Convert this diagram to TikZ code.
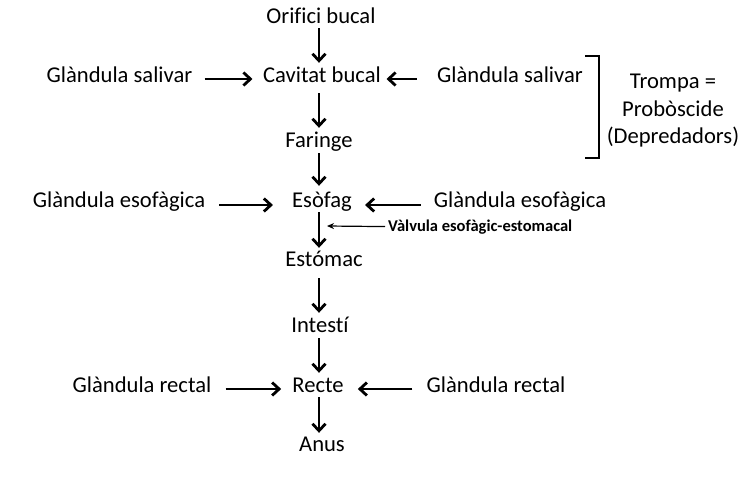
\documentclass[tikz,border=0pt]{standalone}
\usepackage{fontspec}
\setmainfont[Ligatures=NoCommon]{Carlito}
\usetikzlibrary{arrows.meta}
\begin{document}
\begin{tikzpicture}[x=1pt,y=-1pt,
  lbl/.style={font=\fontsize{22.6}{27}\selectfont, inner sep=0pt, text height=17pt, text depth=5pt},
  flow/.style={line width=2.8pt, -{Straight Barb[length=7pt,width=13pt]}},
  thinarrow/.style={line width=1.2pt, -{Stealth[length=7pt,width=6pt]}}]
\useasboundingbox (0,0) rectangle (753,498);
\coordinate (axis) at (319,0);
% central chain (centre = baseline - 6)
\node[lbl] (orif) at (321,17) {Orifici bucal};
\node[lbl] (cav)  at (322,76) {Cavitat bucal};
\node[lbl] (far)  at (319,141) {Faringe};
\node[lbl] (eso)  at (322,201) {Esòfag};
\node[lbl] (est)  at (324,260) {Estómac};
\node[lbl] (int)  at (320,326) {Intestí};
\node[lbl] (rec)  at (318,386) {Recte};
\node[lbl] (anus) at (322,445) {Anus};
% glands
\node[lbl] (gsl) at (119.5,76) {Glàndula salivar};
\node[lbl] (gsr) at (510,76) {Glàndula salivar};
\node[lbl] (gel) at (119,201) {Glàndula esofàgica};
\node[lbl] (ger) at (520,201) {Glàndula esofàgica};
\node[lbl] (grl) at (142,386) {Glàndula rectal};
\node[lbl] (grr) at (496,386) {Glàndula rectal};
% proboscis note
\node[font=\fontsize{22.6}{27.5}\selectfont, align=center, inner sep=0pt] (tromp) at (673,111) {Trompa =\\Probòscide\\(Depredadors)};
\draw[line width=2.2pt] (585,56) -- (599,56) -- (599,158) -- (585,158);
% valve label
\node[font=\fontsize{16.5}{20}\selectfont\bfseries, inner sep=0pt, anchor=base west] (valve) at (388,231) {Vàlvula esofàgic-estomacal};
\coordinate (valvept) at (327,226);
% vertical flow
\draw[flow, shorten <=0pt, shorten >=2pt] (orif.south -| axis) -- (cav.north -| axis);
\draw[flow, shorten <=6pt, shorten >=2pt] (cav.south -| axis) -- (far.north -| axis);
\draw[flow, shorten <=1pt, shorten >=4pt] (far.south -| axis) -- (eso.north -| axis);
\draw[flow, shorten <=0pt, shorten >=1pt] (eso.south -| axis) -- (est.north -| axis);
\draw[flow, shorten <=7pt, shorten >=2pt] (est.south -| axis) -- (int.north -| axis);
\draw[flow, shorten <=1pt, shorten >=2pt] (int.south -| axis) -- (rec.north -| axis);
\draw[flow, shorten <=0pt, shorten >=1pt] (rec.south -| axis) -- (anus.north -| axis);
% horizontal flows
\draw[flow, shorten <=12pt, shorten >=10.5pt] ([yshift=-3pt]gsl.east) -- ([yshift=-3pt]cav.west);
\draw[flow, shorten <=20pt, shorten >=5.5pt] ([yshift=-3pt]gsr.west) -- ([yshift=-3pt]cav.east);
\draw[flow, shorten <=14pt, shorten >=19pt] ([yshift=-4pt]gel.east) -- ([yshift=-4pt]eso.west);
\draw[flow, shorten <=13pt, shorten >=13pt] ([yshift=-4pt]ger.west) -- ([yshift=-4pt]eso.east);
\draw[flow, shorten <=14pt, shorten >=11pt] ([yshift=-3pt]grl.east) -- ([yshift=-3pt]rec.west);
\draw[flow, shorten <=14pt, shorten >=14pt] ([yshift=-3pt]grr.west) -- ([yshift=-3pt]rec.east);
\draw[thinarrow, shorten <=3pt] (valve.west) -- (valvept);
\end{tikzpicture}
\end{document}
